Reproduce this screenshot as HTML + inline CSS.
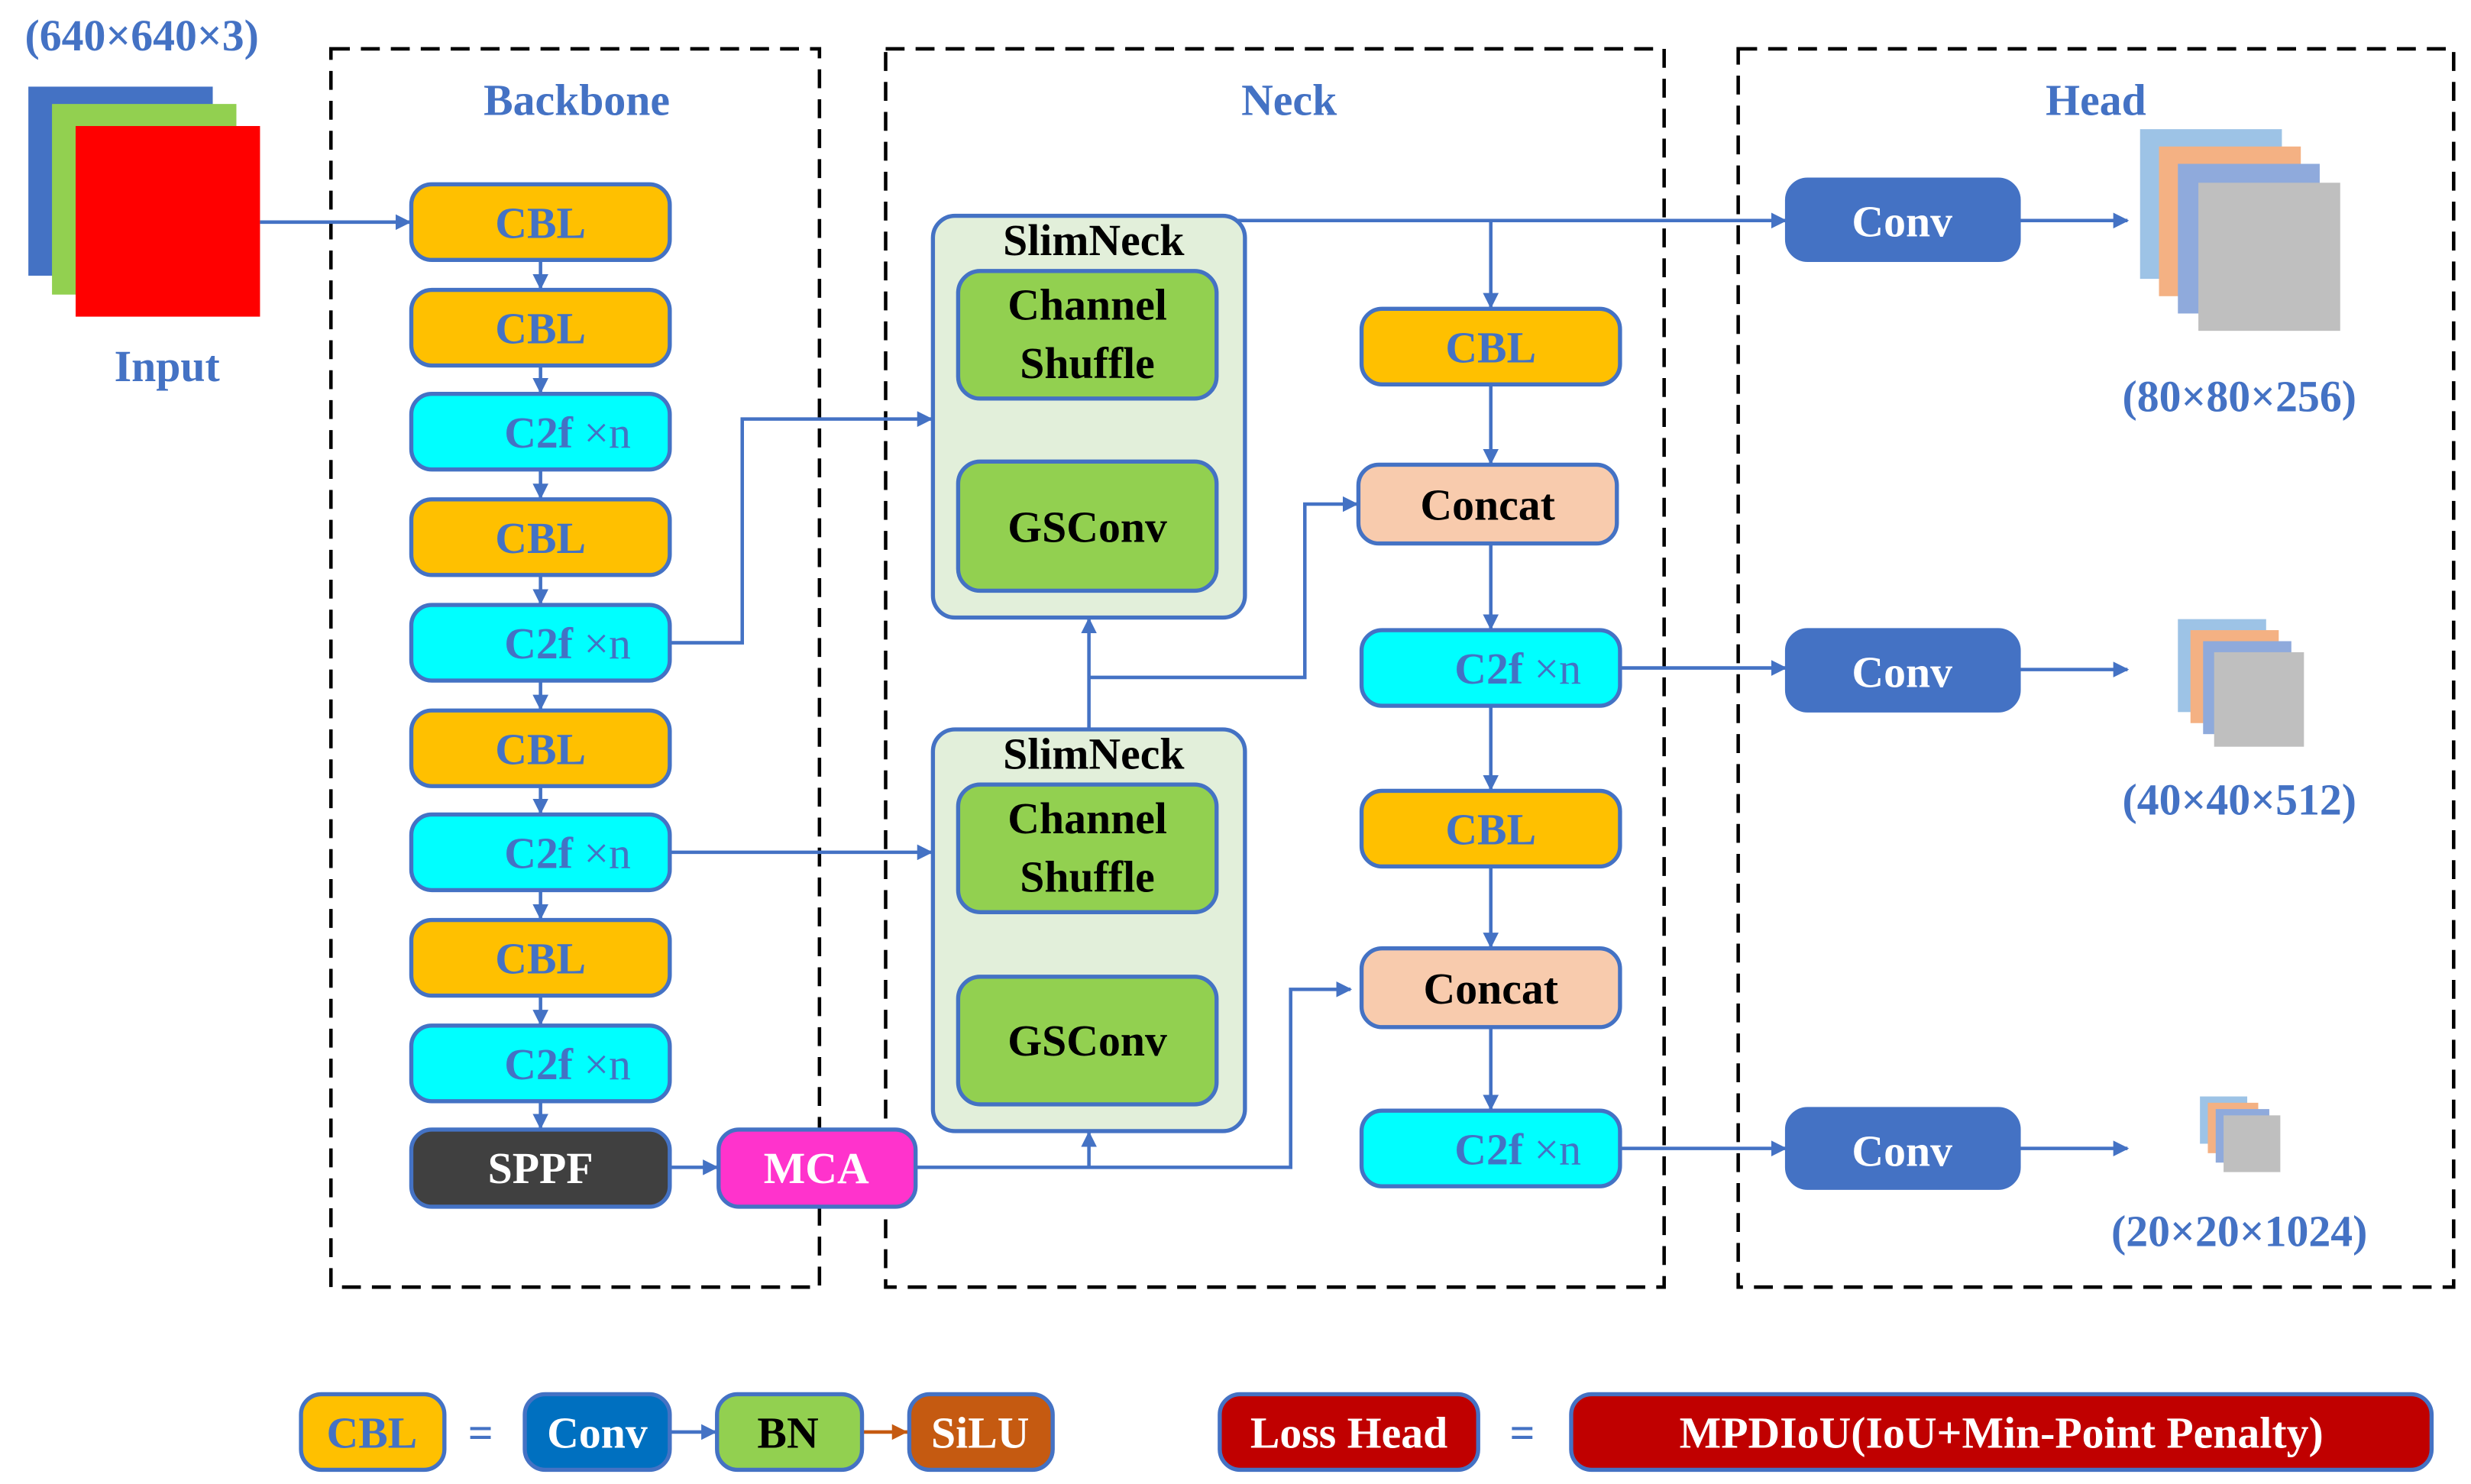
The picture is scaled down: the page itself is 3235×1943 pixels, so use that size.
<!DOCTYPE html>
<html><head><meta charset="utf-8"><style>
html,body{margin:0;padding:0;background:#fff;}
svg{display:block;}
text{font-family:"Liberation Serif",serif;font-weight:bold;}
</style></head><body>
<svg width="3235" height="1943" viewBox="0 0 1568 942" preserveAspectRatio="none" xmlns="http://www.w3.org/2000/svg">
<defs>
<marker id="a" markerWidth="10" markerHeight="10" refX="9" refY="5" orient="auto" markerUnits="userSpaceOnUse"><path d="M0,0 L10,5 L0,10 z" fill="#4472c4"/></marker>
</defs>
<g fill="none" stroke="#000" stroke-width="2.2" stroke-dasharray="12,7">
<rect x="210" y="31" width="310" height="786"/>
<rect x="562" y="31" width="494" height="786"/>
<rect x="1103" y="31" width="454" height="786"/>
</g>
<g fill="#4472c4" font-size="28" text-anchor="middle">
<text x="90" y="32">(640×640×3)</text>
<text x="106" y="242">Input</text>
<text x="366" y="73">Backbone</text>
<text x="818" y="73">Neck</text>
<text x="1330" y="73">Head</text>
<text x="1421" y="261">(80×80×256)</text>
<text x="1421" y="517">(40×40×512)</text>
<text x="1421" y="791">(20×20×1024)</text>
</g>
<rect x="18" y="55" width="117" height="120" fill="#4472c4"/>
<rect x="33" y="66" width="117" height="121" fill="#92d050"/>
<rect x="48" y="80" width="117" height="121" fill="#ff0000"/>
<!-- feature stacks -->
<rect x="1358" y="82" width="90" height="95" fill="#9dc3e6"/>
<rect x="1370" y="93" width="90" height="95" fill="#f4b183"/>
<rect x="1382" y="104" width="90" height="95" fill="#8faadc"/>
<rect x="1395" y="116" width="90" height="94" fill="#bfbfbf"/>
<rect x="1382" y="393" width="56" height="59" fill="#9dc3e6"/>
<rect x="1390" y="400" width="56" height="59" fill="#f4b183"/>
<rect x="1398" y="407" width="56" height="59" fill="#8faadc"/>
<rect x="1405" y="414" width="57" height="60" fill="#bfbfbf"/>
<rect x="1396" y="696" width="30" height="30" fill="#9dc3e6"/>
<rect x="1401" y="700" width="32" height="32" fill="#f4b183"/>
<rect x="1406" y="704" width="34" height="34" fill="#8faadc"/>
<rect x="1411" y="708" width="36" height="36" fill="#bfbfbf"/>
<!-- connectors -->
<g stroke="#4472c4" stroke-width="2.2" fill="none">
<line x1="165" y1="141" x2="260" y2="141" marker-end="url(#a)"/>
<line x1="343" y1="165" x2="343" y2="183" marker-end="url(#a)"/>
<line x1="343" y1="232" x2="343" y2="249" marker-end="url(#a)"/>
<line x1="343" y1="298" x2="343" y2="316" marker-end="url(#a)"/>
<line x1="343" y1="365" x2="343" y2="383" marker-end="url(#a)"/>
<line x1="343" y1="432" x2="343" y2="450" marker-end="url(#a)"/>
<line x1="343" y1="499" x2="343" y2="516" marker-end="url(#a)"/>
<line x1="343" y1="565" x2="343" y2="583" marker-end="url(#a)"/>
<line x1="343" y1="632" x2="343" y2="650" marker-end="url(#a)"/>
<line x1="343" y1="699" x2="343" y2="716" marker-end="url(#a)"/>
<polyline points="425,408 471,408 471,266 591,266" marker-end="url(#a)"/>
<line x1="425" y1="541" x2="591" y2="541" marker-end="url(#a)"/>
<line x1="425" y1="741" x2="455" y2="741" marker-end="url(#a)"/>
<polyline points="581,741 819,741 819,628 857,628" marker-end="url(#a)"/>
<line x1="691" y1="741" x2="691" y2="719" marker-end="url(#a)"/>
<line x1="691" y1="463" x2="691" y2="393" marker-end="url(#a)"/>
<polyline points="691,430 828,430 828,320 861,320" marker-end="url(#a)"/>
<line x1="691" y1="293" x2="691" y2="254" marker-end="url(#a)"/>
<line x1="691" y1="620" x2="691" y2="580" marker-end="url(#a)"/>
<line x1="780" y1="140" x2="1133" y2="140" marker-end="url(#a)"/>
<line x1="946" y1="140" x2="946" y2="195" marker-end="url(#a)"/>
<line x1="946" y1="244" x2="946" y2="294" marker-end="url(#a)"/>
<line x1="946" y1="345" x2="946" y2="399" marker-end="url(#a)"/>
<line x1="946" y1="448" x2="946" y2="501" marker-end="url(#a)"/>
<line x1="946" y1="550" x2="946" y2="601" marker-end="url(#a)"/>
<line x1="946" y1="652" x2="946" y2="704" marker-end="url(#a)"/>
<line x1="1028" y1="424" x2="1133" y2="424" marker-end="url(#a)"/>
<line x1="1028" y1="729" x2="1133" y2="729" marker-end="url(#a)"/>
<line x1="1281" y1="140" x2="1350" y2="140" marker-end="url(#a)"/>
<line x1="1281" y1="425" x2="1350" y2="425" marker-end="url(#a)"/>
<line x1="1281" y1="729" x2="1350" y2="729" marker-end="url(#a)"/>
<line x1="425" y1="909" x2="454" y2="909" marker-end="url(#a)"/>
</g>
<line x1="547" y1="909" x2="576" y2="909" stroke="#c55a11" stroke-width="2.2"/>
<path d="M566,904 L576,909 L566,914 z" fill="#c55a11"/>
<!-- boxes -->
<g stroke="#4472c4" stroke-width="2.6">
<rect x="592" y="137" width="198" height="255" rx="14" fill="#e2efda"/>
<rect x="592" y="463" width="198" height="255" rx="14" fill="#e2efda"/>
<rect x="608" y="172" width="164" height="81" rx="14" fill="#92d050"/>
<rect x="608" y="293" width="164" height="82" rx="14" fill="#92d050"/>
<rect x="608" y="498" width="164" height="81" rx="14" fill="#92d050"/>
<rect x="608" y="620" width="164" height="81" rx="14" fill="#92d050"/>
<g fill="#ffc000">
<rect x="261" y="117" width="164" height="48" rx="13"/>
<rect x="261" y="184" width="164" height="48" rx="13"/>
<rect x="261" y="317" width="164" height="48" rx="13"/>
<rect x="261" y="451" width="164" height="48" rx="13"/>
<rect x="261" y="584" width="164" height="48" rx="13"/>
<rect x="864" y="196" width="164" height="48" rx="13"/>
<rect x="864" y="502" width="164" height="48" rx="13"/>
<rect x="191" y="885" width="91" height="48" rx="13"/>
</g>
<g fill="#00ffff">
<rect x="261" y="250" width="164" height="48" rx="13"/>
<rect x="261" y="384" width="164" height="48" rx="13"/>
<rect x="261" y="517" width="164" height="48" rx="13"/>
<rect x="261" y="651" width="164" height="48" rx="13"/>
<rect x="864" y="400" width="164" height="48" rx="13"/>
<rect x="864" y="705" width="164" height="48" rx="13"/>
</g>
<rect x="261" y="717" width="164" height="49" rx="13" fill="#404040"/>
<rect x="456" y="717" width="125" height="49" rx="13" fill="#ff33cc"/>
<rect x="862" y="295" width="164" height="50" rx="13" fill="#f8cbad"/>
<rect x="864" y="602" width="164" height="50" rx="13" fill="#f8cbad"/>
<g fill="#4472c4">
<rect x="1134" y="114" width="147" height="51" rx="13"/>
<rect x="1134" y="400" width="147" height="51" rx="13"/>
<rect x="1134" y="704" width="147" height="50" rx="13"/>
</g>
<rect x="333" y="885" width="92" height="48" rx="13" fill="#0070c0"/>
<rect x="455" y="885" width="92" height="48" rx="13" fill="#92d050"/>
<rect x="577" y="885" width="91" height="48" rx="13" fill="#c55a11"/>
<rect x="774" y="885" width="164" height="48" rx="13" fill="#c00000"/>
<rect x="997" y="885" width="546" height="48" rx="13" fill="#c00000"/>
</g>
<!-- labels -->
<g font-size="28" text-anchor="middle" fill="#4472c4">
<text x="343" y="151">CBL</text>
<text x="343" y="218">CBL</text>
<text x="343" y="351">CBL</text>
<text x="343" y="485">CBL</text>
<text x="343" y="618">CBL</text>
<text x="946" y="230">CBL</text>
<text x="946" y="536">CBL</text>
<text x="236" y="919">CBL</text>
<text x="305" y="919">=</text>
<text x="966" y="919" fill="#4472c4">=</text>
</g>
<g font-size="28" fill="#4472c4">
<text x="320" y="284">C2f <tspan font-weight="normal">×n</tspan></text>
<text x="320" y="418">C2f <tspan font-weight="normal">×n</tspan></text>
<text x="320" y="551">C2f <tspan font-weight="normal">×n</tspan></text>
<text x="320" y="685">C2f <tspan font-weight="normal">×n</tspan></text>
<text x="923" y="434">C2f <tspan font-weight="normal">×n</tspan></text>
<text x="923" y="739">C2f <tspan font-weight="normal">×n</tspan></text>
</g>
<g font-size="28" text-anchor="middle" fill="#000">
<text x="694" y="162">SlimNeck</text>
<text x="694" y="488">SlimNeck</text>
<text x="690" y="203">Channel</text>
<text x="690" y="240">Shuffle</text>
<text x="690" y="344">GSConv</text>
<text x="690" y="529">Channel</text>
<text x="690" y="566">Shuffle</text>
<text x="690" y="670">GSConv</text>
<text x="944" y="330">Concat</text>
<text x="946" y="637">Concat</text>
<text x="500" y="919">BN</text>
</g>
<g font-size="28" text-anchor="middle" fill="#fff">
<text x="343" y="751">SPPF</text>
<text x="518" y="751">MCA</text>
<text x="1207" y="150">Conv</text>
<text x="1207" y="436">Conv</text>
<text x="1207" y="740">Conv</text>
<text x="379" y="919">Conv</text>
<text x="622" y="919">SiLU</text>
<text x="856" y="919">Loss Head</text>
<text x="1270" y="919">MPDIoU(IoU+Min-Point Penalty)</text>
</g>
</svg>
</body></html>
